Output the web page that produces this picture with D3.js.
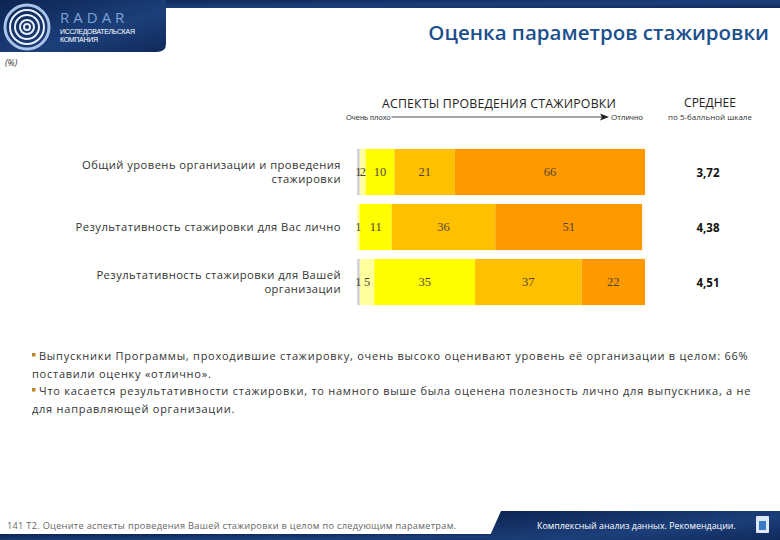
<!DOCTYPE html>
<html>
<head>
<meta charset="utf-8">
<script src="https://cdn.jsdelivr.net/npm/d3@7"></script>
<style>
  body { margin: 0; background: #fff; }
  svg { display: block; }
</style>
</head>
<body>
<div id="chart"></div>
<script>
// Data
const categories = [
  ["Общий уровень организации и проведения", "стажировки"],
  ["Результативность стажировки для Вас лично"],
  ["Результативность стажировки для Вашей", "организации"]
];
const grades = ["1", "2", "3", "4", "5"];
const shares = [
  [1, 2, 10, 21, 66],
  [0, 1, 11, 36, 51],
  [1, 5, 35, 37, 22]
];
const labels = [
  ["1", "2", "10", "21", "66"],
  ["", "1", "11", "36", "51"],
  ["1", "5", "35", "37", "22"]
];
const means = ["3,72", "4,38", "4,51"];
const gradeColors = ["#d4d4d4", "#ffff9e", "#ffff00", "#ffc000", "#ff9900"];

const W = 780, H = 540;
const svg = d3.select("#chart").append("svg")
  .attr("width", W).attr("height", H);

const defs = svg.append("defs");
const grad = defs.append("linearGradient").attr("id", "hdr").attr("x1", 0).attr("x2", 1).attr("y1", 0).attr("y2", 1);
grad.append("stop").attr("offset", "0%").attr("stop-color", "#0c2452");
grad.append("stop").attr("offset", "60%").attr("stop-color", "#1c3f7a");
grad.append("stop").attr("offset", "100%").attr("stop-color", "#10295a");

// Header band and logo box
svg.append("rect").attr("x", 0).attr("y", 0).attr("width", W).attr("height", 8).attr("fill", "url(#hdr)");
svg.append("path")
  .attr("d", "M0,0 H166 V44 Q166,52 156,52 H0 Z")
  .attr("fill", "url(#hdr)");

const logo = svg.append("g").attr("transform", "translate(27,27)");
[22, 17, 12, 7, 3].forEach((r, i) => {
  logo.append("circle").attr("r", r).attr("fill", "none")
    .attr("stroke", i === 0 ? "#a9c4e8" : "#e8f0fb").attr("stroke-width", i === 0 ? 3 : 2);
});
svg.append("text").attr("x", 60).attr("y", 23).text("RADAR")
  .attr("font-family", "Open Sans, sans-serif").attr("font-size", 15)
  .attr("letter-spacing", 4).attr("fill", "#7ea3d6");
svg.append("text").attr("x", 60).attr("y", 34).text("ИССЛЕДОВАТЕЛЬСКАЯ")
  .attr("font-family", "Liberation Sans Narrow, Liberation Sans, sans-serif").attr("font-size", 7)
  .attr("letter-spacing", -0.3).attr("fill", "#ffffff");
svg.append("text").attr("x", 60).attr("y", 42).text("КОМПАНИЯ")
  .attr("font-family", "Liberation Sans Narrow, Liberation Sans, sans-serif").attr("font-size", 7)
  .attr("letter-spacing", -0.3).attr("fill", "#ffffff");

svg.append("text").attr("x", 769).attr("y", 40).attr("text-anchor", "end")
  .text("Оценка параметров стажировки")
  .attr("font-family", "Open Sans, sans-serif").attr("font-weight", 600)
  .attr("font-size", 20.5).attr("fill", "#1b4f8e");

svg.append("text").attr("x", 5).attr("y", 66).text("(%)")
  .attr("font-family", "Open Sans, sans-serif").attr("font-style", "italic")
  .attr("font-size", 9).attr("fill", "#333");

// Scales
const x = d3.scaleLinear().domain([0, 100]).range([357, 645]);
const y = d3.scaleBand().domain(d3.range(categories.length))
  .range([144.5, 309.5]).paddingInner(0.16).paddingOuter(0.08);

// Column headers
const hdrFont = "Open Sans, sans-serif";
const narrow = "Liberation Sans Narrow, Liberation Sans, sans-serif";
svg.append("text").attr("x", 499).attr("y", 108).attr("text-anchor", "middle")
  .text("АСПЕКТЫ ПРОВЕДЕНИЯ СТАЖИРОВКИ")
  .attr("font-family", hdrFont).attr("font-size", 12.3).attr("letter-spacing", 0.2).attr("fill", "#222");
const badLbl = svg.append("text").attr("x", 346).attr("y", 120).text("Очень плохо")
  .attr("font-family", narrow).attr("font-size", 7.5).attr("fill", "#333");
svg.append("text").attr("x", 611).attr("y", 120).text("Отлично")
  .attr("font-family", narrow).attr("font-size", 8).attr("fill", "#333");
const lineStart = 346 + badLbl.node().getComputedTextLength() + 1;
svg.append("line").attr("x1", lineStart).attr("x2", 602).attr("y1", 117).attr("y2", 117)
  .attr("stroke", "#222").attr("stroke-width", 0.8);
svg.append("path")
  .attr("d", "M609,117 L600,113.5 L602,117 L600,120.5 Z")
  .attr("fill", "#222");
svg.append("text").attr("x", 710).attr("y", 107).attr("text-anchor", "middle")
  .text("СРЕДНЕЕ")
  .attr("font-family", hdrFont).attr("font-size", 12).attr("fill", "#222");
svg.append("text").attr("x", 710).attr("y", 120).attr("text-anchor", "middle")
  .text("по 5-балльной шкале")
  .attr("font-family", hdrFont).attr("font-size", 8).attr("fill", "#333");

// Category labels
const catG = svg.append("g");
categories.forEach((lines, i) => {
  const cy = y(i) + y.bandwidth() / 2;
  const t = catG.append("text").attr("text-anchor", "end")
    .attr("font-family", hdrFont).attr("font-size", 11.2).attr("letter-spacing", 0.45)
    .attr("fill", "#333");
  lines.forEach((ln, j) => {
    t.append("tspan").attr("x", 341)
      .attr("y", cy + 4 + (j - (lines.length - 1) / 2) * 14.5)
      .text(ln);
  });
});

// Stacked bars
const rows = shares.map((vals, i) => {
  let acc = 0;
  return vals.map((v, k) => {
    const seg = { row: i, k, x0: acc, x1: acc + v, label: labels[i][k] };
    acc += v;
    return seg;
  });
});

const barG = svg.append("g");
barG.selectAll("g.row")
  .data(rows)
  .join("g").attr("class", "row")
  .selectAll("rect")
  .data(d => d.filter(s => s.x1 > s.x0))
  .join("rect")
  .attr("x", d => x(d.x0))
  .attr("width", d => x(d.x1) - x(d.x0))
  .attr("y", d => y(d.row))
  .attr("height", y.bandwidth())
  .attr("fill", d => gradeColors[d.k]);

barG.selectAll("text.val")
  .data(rows.flat().filter(s => s.label !== ""))
  .join("text").attr("class", "val")
  .attr("x", d => (x(d.x0) + x(d.x1)) / 2)
  .attr("y", d => y(d.row) + y.bandwidth() / 2 + 4)
  .attr("text-anchor", "middle")
  .attr("font-family", "Liberation Serif, serif").attr("font-size", 12.5)
  .attr("fill", "#4f4536")
  .text(d => d.label);

// Means
svg.append("g").selectAll("text")
  .data(means)
  .join("text")
  .attr("x", 708)
  .attr("y", (d, i) => y(i) + y.bandwidth() / 2 + 5)
  .attr("text-anchor", "middle")
  .attr("font-family", hdrFont).attr("font-weight", 700).attr("font-size", 11.5)
  .attr("fill", "#111")
  .text(d => d);

// Comment text
const notes = [
  { bullet: true, text: "Выпускники Программы, проходившие стажировку, очень высоко оценивают уровень её организации в целом: 66%" },
  { bullet: false, text: "поставили оценку «отлично»." },
  { bullet: true, text: "Что касается результативности стажировки, то намного выше была оценена полезность лично для выпускника, а не" },
  { bullet: false, text: "для направляющей организации." }
];
const noteG = svg.append("g");
notes.forEach((n, i) => {
  const ty = 360 + i * 17.5;
  if (n.bullet) {
    noteG.append("rect").attr("x", 32).attr("y", ty - 7).attr("width", 3.5).attr("height", 3.5)
      .attr("fill", "#b8862a");
  }
  noteG.append("text").attr("x", n.bullet ? 39 : 32).attr("y", ty)
    .attr("font-family", hdrFont).attr("font-size", 11).attr("letter-spacing", 0.75)
    .attr("fill", "#333").text(n.text);
});

// Footer
svg.append("rect").attr("x", 0).attr("y", 534).attr("width", W).attr("height", 6).attr("fill", "url(#hdr)");
svg.append("path").attr("d", "M501,511 H780 V540 H488 Z").attr("fill", "url(#hdr)");
svg.append("text").attr("x", 7).attr("y", 529)
  .text("141   Т2. Оцените аспекты проведения Вашей стажировки в целом по следующим параметрам.")
  .attr("font-family", hdrFont).attr("font-size", 9.2).attr("letter-spacing", 0.3).attr("fill", "#666");
svg.append("text").attr("x", 537).attr("y", 529)
  .text("Комплексный анализ данных. Рекомендации.")
  .attr("font-family", hdrFont).attr("font-size", 8.9).attr("fill", "#fff");
const icon = svg.append("g").attr("transform", "translate(756,516)");
icon.append("rect").attr("x", 0).attr("y", 0).attr("width", 13).attr("height", 17).attr("fill", "#dfe8f5").attr("rx", 1);
icon.append("rect").attr("x", 3).attr("y", 5).attr("width", 7).attr("height", 9).attr("fill", "#3a79c4");
</script>
</body>
</html>
